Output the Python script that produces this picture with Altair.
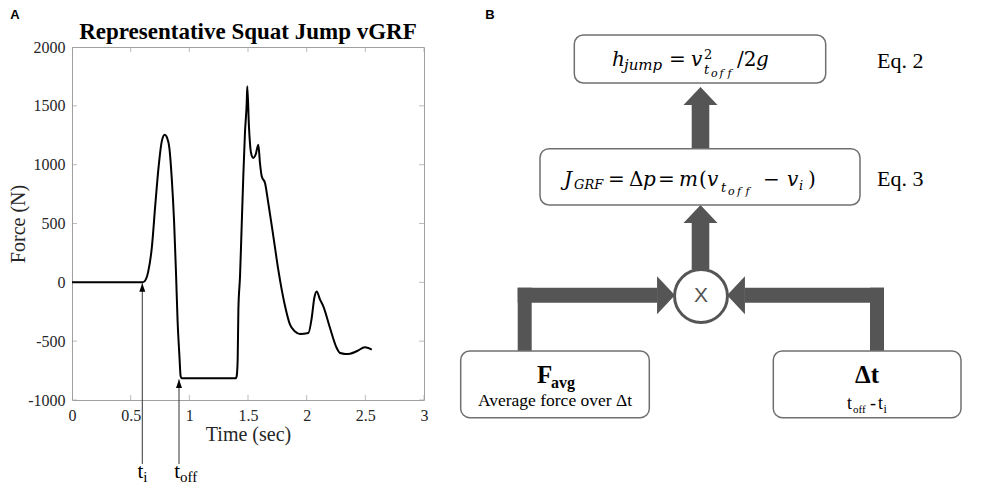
import altair as alt
import pandas as pd

# ---------------- Panel A data ----------------
time_s = [0, 0.60, 0.62, 0.65, 0.68, 0.71, 0.74, 0.765, 0.79, 0.81,
          0.83, 0.85, 0.87, 0.886, 0.90, 0.915, 0.926, 0.935, 1.395, 1.403,
          1.412, 1.418, 1.432, 1.446, 1.46, 1.474, 1.489, 1.494, 1.508, 1.526,
          1.545, 1.565, 1.588, 1.602, 1.617, 1.645, 1.673, 1.716, 1.758, 1.81,
          1.858, 1.901, 1.943, 2.014, 2.043, 2.065, 2.085, 2.114, 2.142, 2.199,
          2.256, 2.285, 2.33, 2.37, 2.426, 2.497, 2.525, 2.555]
force_n = [0, 0, 10, 93, 292, 660, 1000, 1198, 1255, 1230,
           1141, 887, 518, 93, -331, -615, -799, -815, -815, -800,
           -657, -232, 51, 476, 901, 1269, 1524, 1666, 1326, 1099,
           1057, 1085, 1170, 1014, 901, 844, 674, 391, 108, -176,
           -360, -417, -439, -431, -303, -133, -77, -147, -204, -388,
           -558, -601, -608, -606, -586, -552, -558, -572]
x_tick_values = [0, 0.5, 1, 1.5, 2, 2.5, 3]
y_tick_values = [-1000, -500, 0, 500, 1000, 1500, 2000]
event_main = ["t", "t"]
event_sub = ["i", "off"]
event_time = [0.599, 0.912]
event_force = [-8, -825]

title_a = "Representative Squat Jump vGRF"
x_title = "Time (sec)"
y_title = "Force (N)"

# ---------------- styles ----------------
SERIF = "Liberation Serif"
SANS = "Liberation Sans"
MATH = "DejaVu Serif"
AX = "#262626"
FRAME = "#a0a0a0"
ARROW = "#555555"
BOXLINE = "#707070"
W_A, H_A = 352, 353

xs = alt.Scale(domain=[0, 3], nice=False, zero=False)
ys = alt.Scale(domain=[-1000, 2000], nice=False, zero=False)

ax_x = alt.Axis(values=x_tick_values, title=x_title, domain=False, ticks=False, tickSize=0,
                grid=False, labelFont=SERIF, labelFontSize=16, labelColor=AX, labelPadding=7,
                labelFlush=False, labelOverlap=False, labelExpr="'' + datum.value",
                titleFont=SERIF, titleFontSize=20, titleFontWeight="normal", titleColor=AX,
                titlePadding=1)
ax_y = alt.Axis(values=y_tick_values, title=y_title, domain=False, ticks=False, tickSize=0,
                grid=False, labelFont=SERIF, labelFontSize=16, labelColor=AX, labelPadding=7,
                labelOverlap=False, labelExpr="'' + datum.value",
                titleFont=SERIF, titleFontSize=20, titleFontWeight="normal", titleColor=AX,
                titlePadding=-1)

curve = pd.DataFrame({"t": time_s, "F": force_n})
events = pd.DataFrame({"t": event_time, "F": event_force, "main": event_main, "sub": event_sub})
xt = pd.DataFrame({"t": x_tick_values})
yt = pd.DataFrame({"F": y_tick_values})

line = alt.Chart(curve).mark_line(color="black", strokeWidth=2, interpolate="monotone").encode(
    x=alt.X("t:Q", scale=xs, axis=ax_x),
    y=alt.Y("F:Q", scale=ys, axis=ax_y),
)
ev_rule = alt.Chart(events).mark_rule(color="#333333", strokeWidth=1).encode(
    x=alt.X("t:Q", scale=xs, axis=ax_x),
    y=alt.Y("F:Q", scale=ys, axis=ax_y),
    y2=alt.value(417),
)
ev_head = alt.Chart(events).mark_point(
    shape="M 0 0 L 0.6 1.7 L -0.6 1.7 Z", size=100, filled=True, color="black", opacity=1
).encode(x=alt.X("t:Q", scale=xs, axis=ax_x), y=alt.Y("F:Q", scale=ys, axis=ax_y))
ev_main = alt.Chart(events).mark_text(font=SERIF, fontSize=21, align="right",
                                      baseline="alphabetic", color="black", dx=1).encode(
    x=alt.X("t:Q", scale=xs, axis=ax_x), y=alt.value(431), text="main:N")
ev_sub = alt.Chart(events).mark_text(font=SERIF, fontSize=15, align="left",
                                     baseline="alphabetic", color="black", dx=1).encode(
    x=alt.X("t:Q", scale=xs, axis=ax_x), y=alt.value(435), text="sub:N")

tick_left = alt.Chart(yt).mark_tick(orient="horizontal", size=10, thickness=1, color=FRAME,
                                    clip=True).encode(
    y=alt.Y("F:Q", scale=ys, axis=ax_y), x=alt.value(0))
tick_right = alt.Chart(yt).mark_tick(orient="horizontal", size=10, thickness=1, color=FRAME,
                                     clip=True).encode(
    y=alt.Y("F:Q", scale=ys, axis=ax_y), x=alt.value(W_A))
tick_bot = alt.Chart(xt).mark_tick(orient="vertical", size=10, thickness=1, color=FRAME,
                                   clip=True).encode(
    x=alt.X("t:Q", scale=xs, axis=ax_x), y=alt.value(H_A))
tick_top = alt.Chart(xt).mark_tick(orient="vertical", size=10, thickness=1, color=FRAME,
                                   clip=True).encode(
    x=alt.X("t:Q", scale=xs, axis=ax_x), y=alt.value(0))

label_a = alt.Chart(pd.DataFrame({"s": ["A"]})).mark_text(
    font=SANS, fontWeight="bold", fontSize=13, align="center", baseline="alphabetic",
    color="black").encode(text="s:N", x=alt.value(-57), y=alt.value(-28))
title_mark = alt.Chart(pd.DataFrame({"s": [title_a]})).mark_text(
    font=SERIF, fontSize=23, fontWeight="bold", align="center", baseline="alphabetic",
    color="black").encode(text="s:N", x=alt.value(W_A / 2), y=alt.value(-8))

panel_a = alt.layer(tick_left, tick_right, tick_bot, tick_top, line, ev_rule, ev_head,
                    ev_main, ev_sub, label_a, title_mark).properties(
    width=W_A, height=H_A,
    view=alt.ViewBackground(stroke=FRAME, strokeWidth=1),
)

# ---------------- Panel B (diagram, page-pixel units) ----------------
BX0, BX1, BY0, BY1 = 440, 992, 46, 417
bx = alt.Scale(domain=[BX0, BX1], nice=False, zero=False)
by = alt.Scale(domain=[BY0, BY1], nice=False, zero=False, reverse=True)

box_x = [574.3, 540, 460.7, 773.3]
box_x2 = [825.7, 860, 649.3, 961]
box_y = [34, 147.7, 350, 350]
box_y2 = [82, 204, 416.7, 416.7]
boxes = pd.DataFrame({"x": box_x, "x2": box_x2, "y": box_y, "y2": box_y2})

shaft_x = [691.7, 691.7, 517.7, 517.7, 870, 745]
shaft_x2 = [709.3, 709.3, 531.7, 657, 884, 884]
shaft_y = [104, 221, 286.7, 286.7, 286.7, 286.7]
shaft_y2 = [148, 268.5, 350, 301.7, 350, 301.7]
shafts = pd.DataFrame({"x": shaft_x, "x2": shaft_x2, "y": shaft_y, "y2": shaft_y2})

UP = "M -1 0.53 L 1 0.53 L 0 -0.53 Z"
RIGHT = "M -0.47 -1 L 0.47 0 L -0.47 1 Z"
LEFT = "M 0.47 -1 L -0.47 0 L 0.47 1 Z"
heads = pd.DataFrame({"x": [700.5, 700.5, 666, 736], "y": [95, 213, 294.2, 294.2],
                      "shape": [UP, UP, RIGHT, LEFT], "size": [1156, 1156, 1444, 1444]})

rects = alt.Chart(boxes).mark_rect(cornerRadius=9, fill="white", stroke=BOXLINE,
                                   strokeWidth=1.5).encode(
    x=alt.X("x:Q", scale=bx, axis=None), x2="x2:Q",
    y=alt.Y("y:Q", scale=by, axis=None), y2="y2:Q")
shaft_l = alt.Chart(shafts).mark_rect(color=ARROW).encode(
    x=alt.X("x:Q", scale=bx, axis=None), x2="x2:Q",
    y=alt.Y("y:Q", scale=by, axis=None), y2="y2:Q")
head_l = alt.Chart(heads).mark_point(filled=True, color=ARROW, opacity=1, strokeWidth=0).encode(
    x=alt.X("x:Q", scale=bx, axis=None), y=alt.Y("y:Q", scale=by, axis=None),
    shape=alt.Shape("shape:N", scale=None), size=alt.Size("size:Q", scale=None))
circle_l = alt.Chart(pd.DataFrame({"x": [701], "y": [295]})).mark_point(
    shape="circle", size=2800, filled=True, fill="white", stroke=ARROW, strokeWidth=3,
    opacity=1).encode(x=alt.X("x:Q", scale=bx, axis=None), y=alt.Y("y:Q", scale=by, axis=None))


def text_layer(items, font, style="normal", weight="normal", align="left", color="black",
               baseline="alphabetic"):
    df = pd.DataFrame(items, columns=["s", "x", "y", "size"])
    return alt.Chart(df).mark_text(font=font, fontStyle=style, fontWeight=weight, align=align,
                                   baseline=baseline, color=color).encode(
        x=alt.X("x:Q", scale=bx, axis=None), y=alt.Y("y:Q", scale=by, axis=None),
        text="s:N", size=alt.Size("size:Q", scale=None))


math_italic = [
    ("h", 612, 65, 20), ("jump", 624, 69, 15), ("v", 691, 65, 20), ("t", 704, 73, 13),
    ("o", 711, 76, 11), ("f", 719.5, 76, 11), ("f", 727.5, 76, 11), ("g", 756, 65, 20),
    ("J", 564, 185, 20), ("GRF", 574, 188, 13), ("p", 643, 185, 20), ("m", 679, 185, 20),
    ("v", 707, 185, 20), ("t", 721, 191, 13), ("o", 728, 194, 11), ("f", 737, 194, 11),
    ("f", 745.5, 194, 11), ("v", 787, 185, 20), ("i", 799, 189, 13),
]
math_regular = [
    ("=", 669, 65, 20), ("2", 704, 58, 13), ("/2", 737, 65, 20),
    ("=", 608, 185, 20), ("Δ", 629, 185, 20), ("=", 658, 185, 20), ("(", 699, 185, 20),
    ("−", 763, 185, 20), (")", 808, 185, 20),
]
serif_left = [
    ("Eq. 2", 877, 67, 22), ("Eq. 3", 877, 185, 22),
    ("t", 847, 408, 18), ("off", 853, 411.5, 11), ("-", 870, 408, 18), ("t", 878, 408, 18),
    ("i", 883.5, 411.5, 12),
]
serif_center = [("Average force over Δt", 555, 405, 17.5)]
bold_left = [("F", 537, 382, 25), ("avg", 551, 387, 16)]
bold_center = [("Δt", 867, 382, 25)]

t1 = text_layer(math_italic, MATH, style="italic")
t2 = text_layer(math_regular, MATH)
t3 = text_layer(serif_left, SERIF)
t4 = text_layer(serif_center, SERIF, align="center")
t5 = text_layer(bold_left, SERIF, weight="bold")
t6 = text_layer(bold_center, SERIF, weight="bold", align="center")
t_x = text_layer([("X", 701, 295, 21)], SANS, align="center", color=ARROW, baseline="middle")
t_b = text_layer([("B", 490, 18, 13)], SANS, weight="bold", align="center")

panel_b = alt.layer(shaft_l, head_l, rects, circle_l, t1, t2, t3, t4, t5, t6, t_x, t_b).properties(
    width=BX1 - BX0, height=BY1 - BY0,
    view=alt.ViewBackground(stroke=None),
)

chart = alt.hconcat(panel_a, panel_b, spacing=16, bounds="flush").properties(
    padding=0
).configure_view(stroke=None).configure(background="white")

chart.save("out.html", embed_options={"renderer": "svg", "actions": False})
